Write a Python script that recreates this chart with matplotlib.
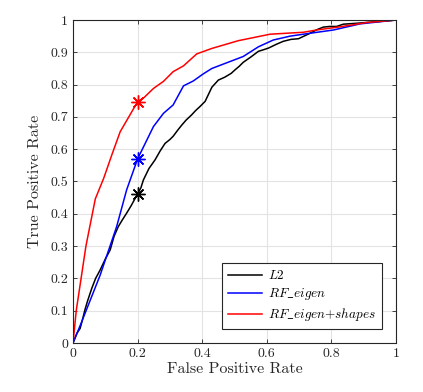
import matplotlib
matplotlib.use("Agg")
import matplotlib.pyplot as plt

plt.rcParams['font.family'] = ['cmr10', 'DejaVu Serif']
plt.rcParams['mathtext.fontset'] = 'cm'
plt.rcParams['axes.formatter.use_mathtext'] = True

series_names = [r'$L2$', r'$RF\_eigen$', r'$RF\_eigen{+}shapes$']
colors = ['black', 'blue', 'red']

l2_fpr = [0, 0.012, 0.022, 0.03, 0.037, 0.045, 0.058, 0.07, 0.084, 0.1, 0.115, 0.127, 0.14, 0.152, 0.166,
          0.18, 0.2, 0.21, 0.218, 0.235, 0.254, 0.27, 0.285, 0.3, 0.31, 0.325, 0.337, 0.35, 0.367, 0.38,
          0.393, 0.409, 0.43, 0.45, 0.47, 0.49, 0.502, 0.515, 0.527, 0.55, 0.574, 0.59, 0.605, 0.63,
          0.651, 0.675, 0.698, 0.715, 0.734, 0.755, 0.775, 0.795, 0.816, 0.837, 0.88, 0.93, 0.97, 1.0]
l2_tpr = [0, 0.03, 0.045, 0.075, 0.103, 0.13, 0.169, 0.2, 0.226, 0.26, 0.288, 0.33, 0.36, 0.38, 0.402,
          0.425, 0.462, 0.48, 0.505, 0.54, 0.567, 0.595, 0.618, 0.63, 0.64, 0.66, 0.675, 0.69, 0.706, 0.72,
          0.732, 0.748, 0.792, 0.814, 0.823, 0.835, 0.846, 0.857, 0.869, 0.885, 0.903, 0.908, 0.913, 0.925,
          0.934, 0.94, 0.942, 0.95, 0.959, 0.97, 0.978, 0.98, 0.98, 0.987, 0.99, 0.994, 0.997, 1.0]

rf_fpr = [0, 0.027, 0.084, 0.135, 0.166, 0.2, 0.249, 0.28, 0.31, 0.342, 0.372, 0.403, 0.43, 0.527, 0.574,
          0.62, 0.672, 0.713, 0.806, 0.889, 1.0]
rf_tpr = [0, 0.066, 0.21, 0.36, 0.474, 0.57, 0.67, 0.711, 0.737, 0.796, 0.811, 0.833, 0.85, 0.887, 0.917,
          0.938, 0.95, 0.956, 0.969, 0.988, 1.0]

rfs_fpr = [0, 0.01, 0.025, 0.04, 0.069, 0.095, 0.12, 0.146, 0.2, 0.22, 0.249, 0.28, 0.31, 0.342, 0.383,
           0.43, 0.512, 0.61, 0.713, 0.754, 0.827, 0.909, 1.0]
rfs_tpr = [0, 0.1, 0.2, 0.3, 0.446, 0.51, 0.582, 0.654, 0.747, 0.76, 0.788, 0.81, 0.84, 0.858, 0.895,
           0.912, 0.936, 0.956, 0.962, 0.969, 0.979, 0.992, 1.0]

marker_fpr = [0.2, 0.2, 0.2]
marker_tpr = [0.462, 0.57, 0.747]

tick_vals = [0, 0.2, 0.4, 0.6, 0.8, 1]
tick_labels = ['0', '0.2', '0.4', '0.6', '0.8', '1']
ytick_vals = [0, 0.1, 0.2, 0.3, 0.4, 0.5, 0.6, 0.7, 0.8, 0.9, 1]
ytick_labels = ['0', '0.1', '0.2', '0.3', '0.4', '0.5', '0.6', '0.7', '0.8', '0.9', '1']

fig = plt.figure(figsize=(4.23, 3.92), dpi=100)
ax = fig.add_axes([0.1726, 0.125, 0.7636, 0.824])

curves = [(l2_fpr, l2_tpr), (rf_fpr, rf_tpr), (rfs_fpr, rfs_tpr)]
for (xs, ys), c, name in zip(curves, colors, series_names):
    ax.plot(xs, ys, color=c, lw=1.1, label=name)
for mx, my, c in zip(marker_fpr, marker_tpr, colors):
    ax.plot([mx], [my], linestyle='none', marker=(8, 2, 0), markersize=10,
            markeredgecolor=c, markeredgewidth=1.0, color=c)

ax.set_xlim(0, 1)
ax.set_ylim(0, 1)
ax.set_xticks(tick_vals)
ax.set_xticklabels(tick_labels)
ax.set_yticks(ytick_vals)
ax.set_yticklabels(ytick_labels)
ax.grid(True, color='#e3e3e3', lw=0.8)
ax.set_axisbelow(True)
ax.tick_params(direction='in', top=True, right=True, length=3, width=0.6,
               labelsize=10, colors='#262626', labelcolor='#262626')
for s in ax.spines.values():
    s.set_color('#262626')
    s.set_linewidth(0.8)
ax.set_xlabel('False Positive Rate', fontsize=11.5, color='#262626', labelpad=2)
ax.set_ylabel('True Positive Rate', fontsize=11.5, color='#262626', labelpad=6)

leg = ax.legend(loc='lower right', bbox_to_anchor=(0.957, 0.043), borderaxespad=0,
                fontsize=9.5, fancybox=False, edgecolor='#262626', framealpha=1,
                handlelength=2.6, handletextpad=0.5, borderpad=0.45, labelspacing=0.3)
leg.get_frame().set_linewidth(0.8)

fig.savefig('out.png', dpi=100)
